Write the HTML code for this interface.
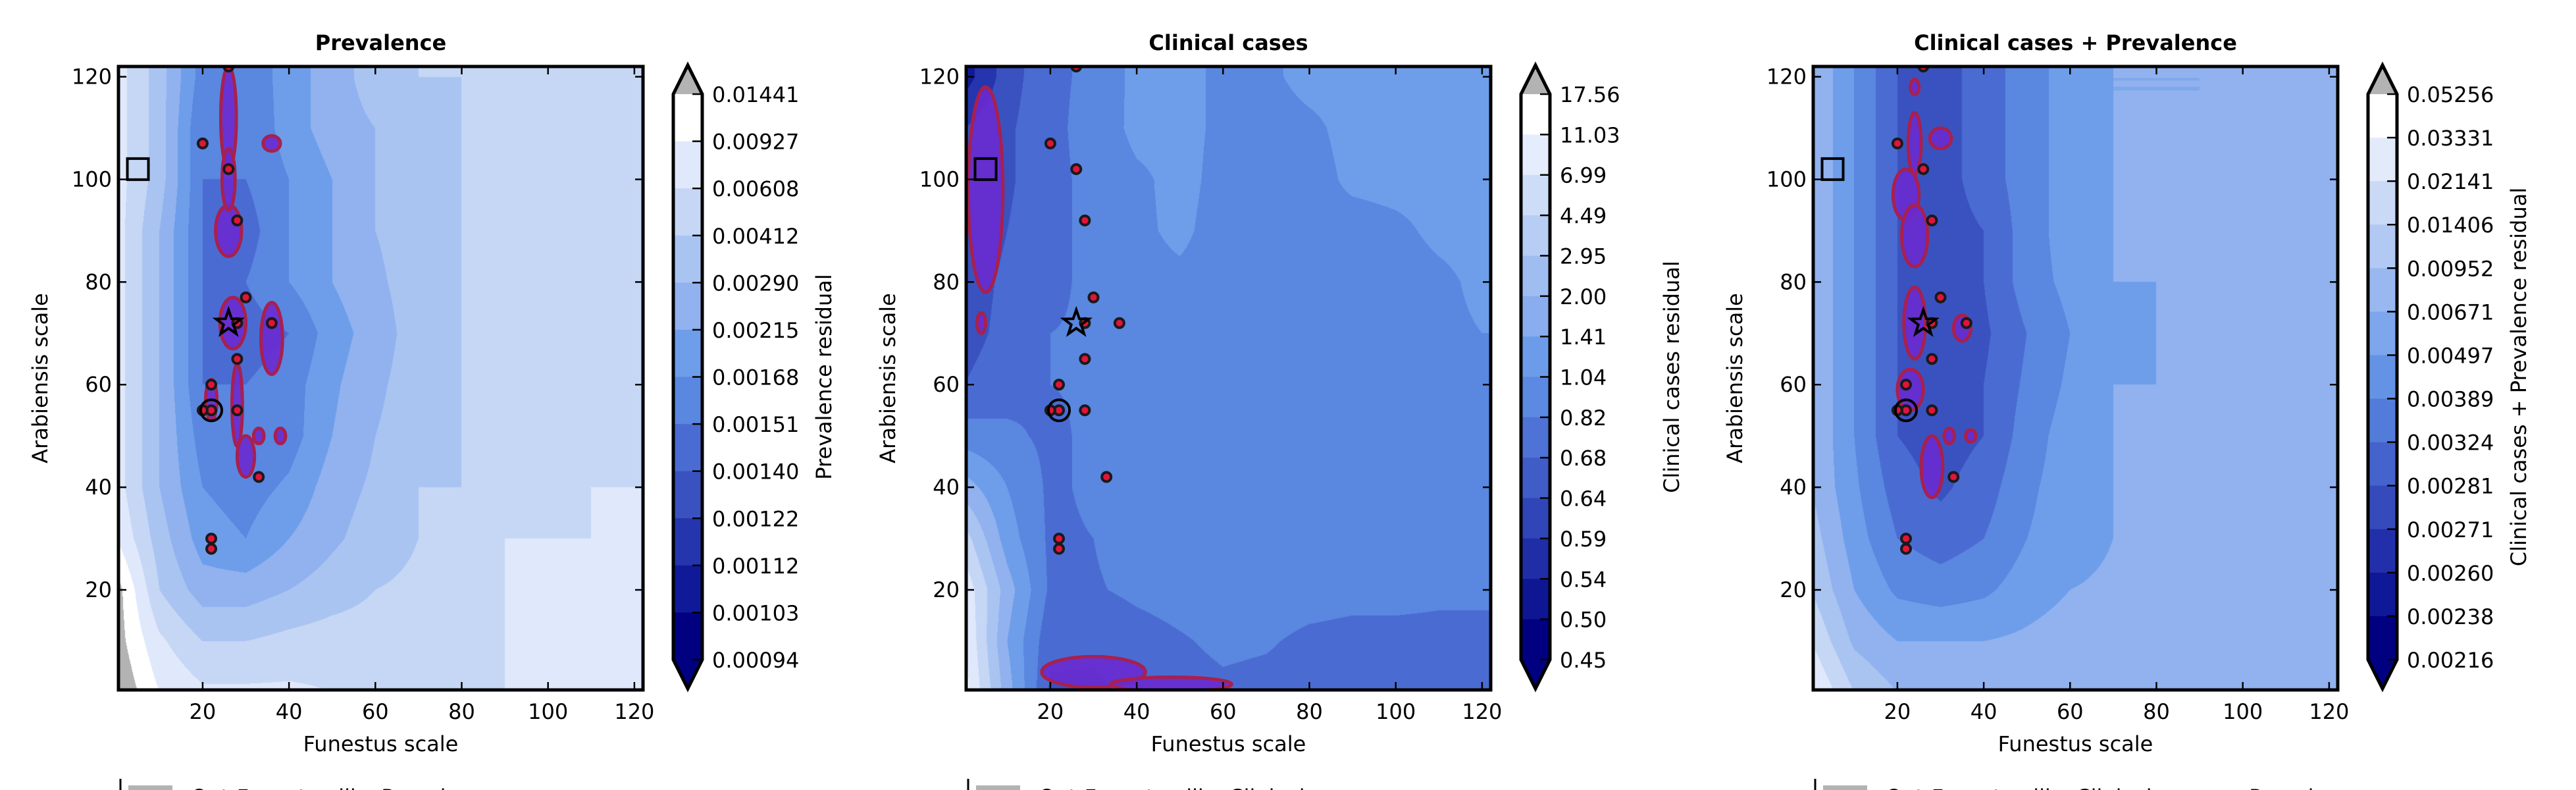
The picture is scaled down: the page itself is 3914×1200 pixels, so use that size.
<!DOCTYPE html>
<html><head><meta charset="utf-8">
<style>
html,body{margin:0;padding:0;background:#fff;}
#root{position:relative;width:3914px;height:1200px;overflow:hidden;font-family:"DejaVu Sans","Liberation Sans",sans-serif;}
canvas{position:absolute;}
svg{position:absolute;left:0;top:0;}
</style></head>
<body>
<div id="root">
<canvas id="c0"></canvas>
<canvas id="c1"></canvas>
<canvas id="c2"></canvas>
<svg id="s" width="3914" height="1200"></svg>
</div>
<script>
// ---- data ----
const gridX = [0,10,20,30,40,50,60,70,80,90,100,110,120];
const gridY = [120,110,100,90,80,70,60,50,40,30,20,10,0];
const prevField = [
[10.5,8.5,5.5,5.2,6.5,7.5,8.5,9,9,9.5,9.5,9.5,9.5],
[10.5,8.5,5,5,6.5,7.5,8,8.5,9,9,9.2,9.2,9.2],
[10.5,8.5,5,5,6,7,8,8.5,9,9,9,9,9.5],
[10.5,8,5,4.5,6,7,8,8.5,9,9,9,9,9.5],
[10.5,8,5,5,6,7,7.8,8.5,9,9,9,9,9.5],
[10.5,8,5,4.5,5,6.5,7.5,8.5,9,9,9,9,9.2],
[10.5,8,5,5,5.5,6.8,7.8,8.5,9,9,9.2,9.5,9.5],
[10.5,8,5.5,5,5.5,7,8,8.5,9,9,9.2,9.5,9.5],
[10.5,8,6,5.5,6.2,7.5,8.2,9,9,9.2,9.8,10,10],
[11,8.5,6.5,6,7,7.8,8.5,9,9.3,10,10,10,10.1],
[12.5,9,7.5,7.5,8,8.5,9,9.2,9.5,10,10.2,10.2,10.2],
[12.5,10.2,9,9,9.3,9.5,9.5,9.5,9.8,10,10,10,10],
[13,11,10.2,10.2,10.2,10,10,10,10,10,10,10,10]];
const clinField = [
[1.5,3.5,4.8,5.2,6.3,6.3,5.8,5.8,6.3,6.3,6.3,6.3,6.3],
[3,3.8,4.8,5.3,6.3,6.3,5.8,5.6,5.8,6.3,6.3,6.3,6.3],
[3.2,3.8,4.8,5.2,5.8,6.3,5.7,5.6,5.6,6.2,6.3,6.3,6.3],
[3.2,4,4.8,5.2,5.8,6.2,5.6,5.6,5.8,5.6,5.8,6.2,6.3],
[3.5,4.2,4.8,5.2,5.7,5.8,5.6,5.6,5.6,5.6,5.6,5.8,6.2],
[3.6,4.3,5,5.1,5.6,5.6,5.6,5.5,5.5,5.5,5.6,5.8,6],
[4,4.6,5,5.1,5.6,5.6,5.5,5.5,5.5,5.5,5.5,5.8,5.8],
[5.5,5.2,4.8,5.2,5.8,5.6,5.5,5.5,5.5,5.6,5.6,5.6,5.6],
[7.5,6,4.8,5.2,5.6,5.5,5.5,5.5,5.5,5.5,5.5,5.5,5.5],
[9.5,6.5,4.8,5,5.5,5.5,5.5,5.5,5.5,5.5,5.5,5.5,5.5],
[10.8,7.5,4.8,4.9,5.2,5.4,5.5,5.5,5.4,5.3,5.3,5.2,5.2],
[11.2,7,4.3,4.2,4.6,4.9,5.2,5.1,4.8,4.7,4.7,4.7,4.7],
[11.5,7.5,3.8,3.8,4.2,4.6,4.8,4.7,4.6,4.6,4.6,4.6,4.6]];
const combField = [
[8,6,4,3.5,4.5,5.5,6.5,7,7,7,7.5,7.8,7.5],
[8,6,4,3.5,4.5,5.5,6.5,7,7,7,7.3,7.5,7.5],
[8,6,4,3.5,4.5,5.5,6.5,7,7,7,7.2,7.5,7.5],
[8,6,4,3.5,4,5.5,6.5,7,7,7,7.2,7.3,7.5],
[8,6,4,3.5,4,5.5,6.3,7,7,7,7.2,7.5,7.5],
[8,6,4,3.5,3.8,5,6,6.8,7,7,7.3,7.5,7.5],
[8,6,4,3.5,4,5.2,6.2,7,7,7,7.3,7.5,7.5],
[8,6,4,3.5,4,5.5,6.5,7,7.2,7.5,7.5,7.5,7.5],
[8,6.2,4.5,3.8,4.5,5.8,6.5,7,7.5,7.5,7.5,7.5,7.5],
[8.5,6.5,5,4.5,5,6,6.5,7,7.5,7.5,7.5,7.5,7.5],
[9,7,5.8,5.5,5.8,6.5,7,7.2,7.5,7.5,7.5,7.5,7.5],
[10,7.8,7,7,7,7.2,7.5,7.5,7.5,7.6,7.5,7.5,7.5],
[11.2,9,8,8,8,8,8,8,8,8,8,8,8]];
const prevBlobs = [[26,112,1.8,10],[26,90,3,5],[26,100,1.5,6],[36,107,2,1.5],[27,72,3,5],[36,69,2.5,7],[22,57,1.3,4],[28,56,1.2,8],[30,46,2,4],[33,50,1.2,1.5],[38,50,1.2,1.5]];
const clinBlobs = [[5,98,4,20],[4,72,1,2],[30,4,12,3],[48,1.6,14,1.4]];
const combBlobs = [[24,107,1.5,6],[22,97,3,5],[30,108,2.5,2],[24,89,3,6],[24,72,2.5,7],[35,71,2,2.5],[23,59,3,4],[28,44,2.5,6],[32,50,1.2,1.5],[37,50,1.2,1.2],[24,118,1,1.5]];
const ptsX = [20,26,28,30,28,36,28,22,22,20,28,33,22,22,26];
const ptsY = [107,102,92,77,72,72,65,60,55,55,55,42,30,28,122];
const starPt = [26,72], circlePt = [22,55], squarePt = [5,102];
const tickVals = [20,40,60,80,100,120];
const prevLabels = ["0.01441","0.00927","0.00608","0.00412","0.00290","0.00215","0.00168","0.00151","0.00140","0.00122","0.00112","0.00103","0.00094"];
const clinLabels = ["17.56","11.03","6.99","4.49","2.95","2.00","1.41","1.04","0.82","0.68","0.64","0.59","0.54","0.50","0.45"];
const combLabels = ["0.05256","0.03331","0.02141","0.01406","0.00952","0.00671","0.00497","0.00389","0.00324","0.00281","0.00271","0.00260","0.00238","0.00216"];
const titles = ["Prevalence","Clinical cases","Clinical cases + Prevalence"];
const cbTitles = ["Prevalence residual","Clinical cases residual","Clinical cases + Prevalence residual"];
const legendTexts = ["Out-Funestus-like Prevalence","Out-Funestus-like Clinical","Out-Funestus-like Clinical cases + Prevalence"];

// ---- layout ----
const palette = ["#000080","#101a98","#2535ae","#3a52c0","#4a6cd2","#5a87e0","#6e9eea","#91b2ef","#aac4f2","#c6d7f5","#e0e9fb","#ffffff"];
const GRAY = "#b3b3b3";
const LEFTS = [180,1468,2755], TOP=101, W=797, H=947;
const XMIN=0.5, XMAX=122, YMIN=0.5, YMAX=122;
const NS="http://www.w3.org/2000/svg";
const svg=document.getElementById('s');
function el(tag,attrs,parent){const e=document.createElementNS(NS,tag);for(const k in attrs)e.setAttribute(k,attrs[k]);(parent||svg).appendChild(e);return e;}
function sx(p,v){return LEFTS[p]+(v-XMIN)/(XMAX-XMIN)*W;}
function sy(v){return TOP+H-(v-YMIN)/(YMAX-YMIN)*H;}
function hex(c){return [parseInt(c.substr(1,2),16),parseInt(c.substr(3,2),16),parseInt(c.substr(5,2),16)];}
const palRGB=palette.map(hex), grayRGB=hex(GRAY);
function lerpColor(a,b,t){const A=hex(a),B=hex(b);return "rgb("+A.map((v,i)=>Math.round(v+(B[i]-v)*t)).join(",")+")";}

function sample(field,x,y){
  let fx=Math.min(Math.max(x/10,0),12), fy=Math.min(Math.max((120-y)/10,0),12);
  let i=Math.min(Math.floor(fx),11), j=Math.min(Math.floor(fy),11);
  let tx=fx-i, ty=fy-j;
  const a=field[j][i],b=field[j][i+1],c=field[j+1][i],d=field[j+1][i+1];
  return (a*(1-tx)+b*tx)*(1-ty)+(c*(1-tx)+d*tx)*ty;
}
const fields=[prevField,clinField,combField];
const blobsAll=[prevBlobs,clinBlobs,combBlobs];
const labelsAll=[prevLabels,clinLabels,combLabels];

for(let p=0;p<3;p++){
  const cv=document.getElementById('c'+p);
  cv.width=W; cv.height=H; cv.style.left=LEFTS[p]+'px'; cv.style.top=TOP+'px';
  const ctx=cv.getContext('2d'); const img=ctx.createImageData(W,H); const d=img.data;
  for(let py=0;py<H;py++){const y=YMAX-(py+0.5)/H*(YMAX-YMIN);
    for(let px=0;px<W;px++){const x=XMIN+(px+0.5)/W*(XMAX-XMIN);
      const v=sample(fields[p],x,y); let c;
      if(v>=12)c=grayRGB; else c=palRGB[Math.max(0,Math.min(11,Math.floor(v)))];
      const k=(py*W+px)*4; d[k]=c[0];d[k+1]=c[1];d[k+2]=c[2];d[k+3]=255;}}
  ctx.putImageData(img,0,0);

  const L=LEFTS[p];
  const g=el('g',{});
  
  
  const cp=el('clipPath',{id:'clip'+p},g); el('rect',{x:L,y:TOP,width:W,height:H},cp);
  const og=el('g',{'clip-path':'url(#clip'+p+')'},g);
  blobsAll[p].forEach(b=>{
    const e=el('ellipse',{cx:sx(p,b[0]),cy:sy(b[1]),rx:b[2]/(XMAX-XMIN)*W,ry:b[3]/(YMAX-YMIN)*H,fill:"#6a2ad0","fill-opacity":"0.9",stroke:"#a8204e","stroke-width":5},og);
    
    
  });
  for(let i=0;i<ptsX.length;i++){
    const c=el('circle',{cx:sx(p,ptsX[i]),cy:sy(ptsY[i]),r:7,fill:"#e0143c",stroke:"#1a1a1a","stroke-width":4},og);
    
    
  }
  {const cx=sx(p,starPt[0]),cy=sy(starPt[1]);let pts=[];
   for(let k=0;k<10;k++){const r=k%2?8:20;const a=-Math.PI/2+k*Math.PI/5;pts.push((cx+r*Math.cos(a)).toFixed(1)+","+(cy+r*Math.sin(a)).toFixed(1));}
   const s=el('polygon',{points:pts.join(" "),fill:"none",stroke:"#000","stroke-width":4},og);
   
   }
  {const c=el('circle',{cx:sx(p,circlePt[0]),cy:sy(circlePt[1]),r:16,fill:"none",stroke:"#000","stroke-width":4},og);
   
   }
  {const r=el('rect',{x:sx(p,squarePt[0])-16,y:sy(squarePt[1])-16,width:32,height:32,fill:"none",stroke:"#000","stroke-width":4},og);
   
   }
  const fr=el('rect',{x:L,y:TOP,width:W,height:H,fill:"none",stroke:"#000","stroke-width":5},g);
  
  
  tickVals.forEach(t=>{
    const X=sx(p,t), Y=sy(t);
    el('line',{x1:X,y1:TOP+H,x2:X,y2:TOP+H-12,stroke:"#000","stroke-width":2.5},g);
    el('line',{x1:X,y1:TOP,x2:X,y2:TOP+12,stroke:"#000","stroke-width":2.5},g);
    el('line',{x1:L,y1:Y,x2:L+12,y2:Y,stroke:"#000","stroke-width":2.5},g);
    el('line',{x1:L+W,y1:Y,x2:L+W-12,y2:Y,stroke:"#000","stroke-width":2.5},g);
    const xt=el('text',{x:X,y:TOP+H+44,"font-size":32,"text-anchor":"middle"},g); xt.textContent=t;
    
    
    const yt=el('text',{x:L-10,y:Y+11,"font-size":32,"text-anchor":"end"},g); yt.textContent=t;
    
    
  });
  const tt=el('text',{x:L+W/2,y:76,"font-size":32,"font-weight":"bold","text-anchor":"middle"},g); tt.textContent=titles[p];
  
  
  const xl=el('text',{x:L+W/2,y:1141,"font-size":32,"text-anchor":"middle"},g); xl.textContent="Funestus scale";
  
  
  const yl=el('text',{x:0,y:0,"font-size":32,"text-anchor":"middle",transform:"translate("+(L-108)+","+(TOP+H/2)+") rotate(-90)"},g); yl.textContent="Arabiensis scale";
  
  

  const labs=labelsAll[p]; const n=labs.length-1;
  const cx0=L+843, cw=44, ct=143, cb=1002;
  const cg=el('g',{},g);
  
  
  const bh=(cb-ct)/n;
  for(let i=0;i<n;i++){
    const t=n===1?0:i/(n-1);
    const pf=(1-t)*11; const lo=Math.floor(pf), hi=Math.min(11,lo+1);
    const col=lerpColor(palette[lo],palette[hi],pf-lo);
    el('rect',{x:cx0,y:ct+i*bh,width:cw,height:bh+0.5,fill:col},cg);
  }
  el('polygon',{points:cx0+","+ct+" "+(cx0+cw/2)+",99 "+(cx0+cw)+","+ct,fill:GRAY},cg);
  el('polygon',{points:cx0+","+cb+" "+(cx0+cw/2)+",1046 "+(cx0+cw)+","+cb,fill:palette[0]},cg);
  el('polygon',{points:cx0+","+ct+" "+(cx0+cw/2)+",99 "+(cx0+cw)+","+ct+" "+(cx0+cw)+","+cb+" "+(cx0+cw/2)+",1046 "+cx0+","+cb,fill:"none",stroke:"#000","stroke-width":5},cg);
  labs.forEach((s,i)=>{
    const Y=ct+i*bh;
    el('line',{x1:cx0+cw-15,y1:Y,x2:cx0+cw,y2:Y,stroke:"#000","stroke-width":2.5},cg);
    const lt=el('text',{x:L+902,y:Y+12,"font-size":32},cg); lt.textContent=s;
    
    
  });
  const cl=el('text',{x:0,y:0,"font-size":32,"text-anchor":"middle",transform:"translate("+(L+1083)+","+((ct+cb)/2)+") rotate(-90)"},cg); cl.textContent=cbTitles[p];
  
  

  const lg=el('g',{},g);
  
  
  el('line',{x1:L+3,y1:1183,x2:L+3,y2:1200,stroke:"#000","stroke-width":3},lg);
  el('rect',{x:L+15,y:1193,width:67,height:10,fill:GRAY},lg);
  const le=el('text',{x:L+110,y:1222,"font-size":32},lg); le.textContent=legendTexts[p];
  
  
}
</script>
</body></html>
